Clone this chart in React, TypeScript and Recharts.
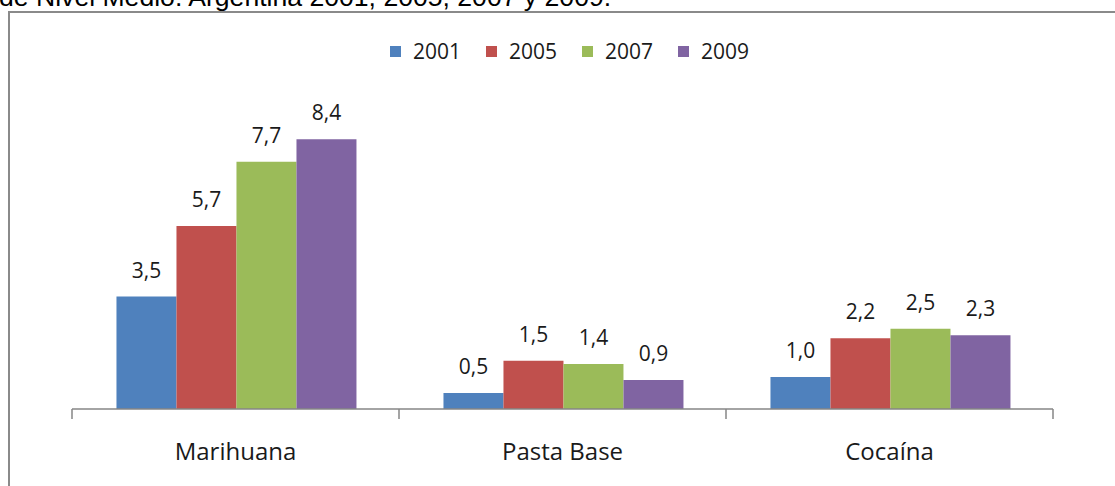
import React from "react";
import { BarChart, Bar, XAxis, YAxis, Legend, LabelList } from "recharts";

const categories = ["Marihuana", "Pasta Base", "Cocaína"];
const years = ["2001", "2005", "2007", "2009"];
const values2001 = [3.5, 0.5, 1.0];
const values2005 = [5.7, 1.5, 2.2];
const values2007 = [7.7, 1.4, 2.5];
const values2009 = [8.4, 0.9, 2.3];
const colors = ["#4f81bd", "#c0504d", "#9bbb59", "#8064a2"];

const seriesValues = [values2001, values2005, values2007, values2009];

const data = categories.map((name, i) => {
  const row: Record<string, string | number> = { name };
  years.forEach((y, k) => {
    row[y] = seriesValues[k][i];
  });
  return row;
});

const FONT = "'Open Sans', sans-serif";
const TEXT = "#1a1a1a";
const AXIS = "#868686";

const fmt = (v: any) => Number(v).toFixed(1).replace(".", ",");

// category label plus tick marks on the band edges (Excel style)
const CategoryTick = (props: any) => {
  const { x, y, payload, index, visibleTicksCount } = props;
  const half = payload && payload.offset ? payload.offset : 0;
  const last = index === (visibleTicksCount ?? categories.length) - 1;
  return (
    <g>
      <line x1={x - half} x2={x - half} y1={y} y2={y + 10} stroke={AXIS} strokeWidth={1.5} />
      {last && <line x1={x + half} x2={x + half} y1={y} y2={y + 10} stroke={AXIS} strokeWidth={1.5} />}
      <text x={x} y={y + 51} textAnchor="middle" fontFamily={FONT} fontSize={24} fill={TEXT}>
        {payload.value}
      </text>
    </g>
  );
};

const renderLegend = (props: any) => (
  <div style={{ display: "flex", gap: 25, fontFamily: FONT, fontSize: 21, color: TEXT }}>
    {(props.payload || []).map((item: any) => (
      <div key={item.value} style={{ display: "flex", alignItems: "center" }}>
        <span style={{ width: 11, height: 11, background: item.color, marginRight: 12, display: "inline-block" }} />
        <span>{item.value}</span>
      </div>
    ))}
  </div>
);

export default function App() {
  return (
    <div style={{ position: "absolute", left: 0, top: 0, width: 1115, height: 486, overflow: "hidden", background: "#fff" }}>
      <div
        style={{
          position: "absolute",
          left: -1,
          top: -18,
          fontFamily: "'Liberation Sans', Arial, sans-serif",
          fontSize: 26.6,
          lineHeight: "30px",
          color: "#000",
          whiteSpace: "nowrap",
        }}
      >
        de Nivel Medio. Argentina 2001, 2005, 2007 y 2009.
      </div>
      <div
        style={{
          position: "absolute",
          left: 8,
          top: 11,
          width: 1200,
          height: 600,
          border: "2px solid #8a8a8a",
        }}
      />
      <div style={{ position: "absolute", left: 0, top: 0 }}>
        <BarChart
          width={1115}
          height={486}
          data={data}
          margin={{ top: 120, right: 62, left: 72, bottom: 17 }}
          barCategoryGap="13.6%"
          barGap={0}
        >
          <XAxis
            dataKey="name"
            height={60}
            axisLine={{ stroke: AXIS, strokeWidth: 1.5 }}
            tickLine={false}
            tickSize={0}
            tickMargin={0}
            interval={0}
            tick={<CategoryTick />}
          />
          <YAxis hide domain={[0, 9]} />
          <Legend
            layout="horizontal"
            verticalAlign="middle"
            align="center"
            content={renderLegend}
            wrapperStyle={{ top: 37, left: 390, width: 500 }}
          />
          {years.map((y, k) => (
            <Bar key={y} dataKey={y} name={y} fill={colors[k]} isAnimationActive={false}>
              <LabelList
                dataKey={y}
                position="top"
                offset={19}
                formatter={fmt}
                style={{ fontFamily: FONT, fontSize: 21, fill: TEXT }}
              />
            </Bar>
          ))}
        </BarChart>
      </div>
    </div>
  );
}
